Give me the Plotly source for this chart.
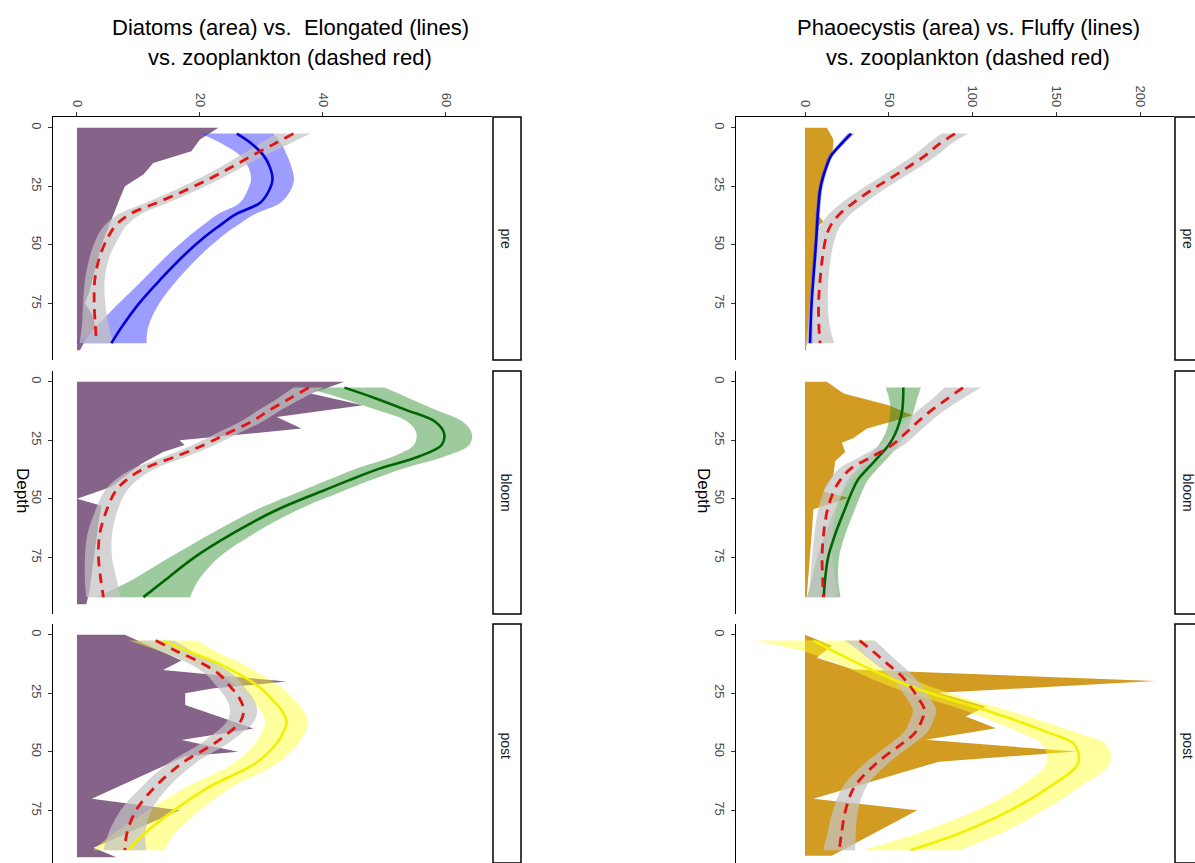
import plotly.graph_objects as go

# ---------------- data ----------------
FACETS = ["pre", "bloom", "post"]
DEPTH_TICKS = [0, 25, 50, 75]
LEFT_VALUE_TICKS = [0, 20, 40, 60]
RIGHT_VALUE_TICKS = [0, 50, 100, 150, 200]

LEFT_TITLE = ["Diatoms (area) vs.\u00a0 Elongated (lines)", "vs. zooplankton (dashed red)"]
RIGHT_TITLE = ["Phaoecystis (area) vs. Fluffy (lines)", "vs. zooplankton (dashed red)"]

# smooth fits are read at these depths
SMOOTH_DEPTH = [2.5, 7, 12, 17, 22, 27, 32, 37, 42, 47, 55, 65, 75, 85, 92]

# --- Diatoms (area) ---
diatoms_pre_depth = [0, 5, 10, 15, 20, 25, 30, 34, 40, 45, 50, 55, 60, 65, 70, 75, 80, 85, 90, 95]
diatoms_pre_value = [23, 20, 18.6, 12.4, 10.8, 7.8, 7, 6.4, 5.5, 4.8, 4, 3.5, 3, 2.5, 2, 1.3, 2.5, 3, 1.5, 0.5]
diatoms_bloom_depth = [0, 5, 10, 15, 20, 23, 25, 27, 30, 35, 40, 45, 50, 53, 60, 70, 80, 90, 95]
diatoms_bloom_value = [43.5, 38, 46.5, 32.5, 36.5, 25, 16.7, 17.5, 14, 10.5, 8, 5.5, 0, 4, 3.5, 3, 2.5, 2, 1.5]
diatoms_post_depth = [0, 11, 15, 20, 23, 25, 30, 35, 40, 45, 50, 52, 70, 75, 91, 95]
diatoms_post_value = [7.8, 17, 14, 34, 22, 17.6, 17.6, 23, 28.7, 17, 26.2, 17.5, 2.4, 16.7, 2.7, 6.4]

# --- Elongated (smooth + ci) ---
elong_pre_fit = [26, 28.5, 30.4, 31.4, 31.8, 31.2, 29.8, 25.8, 23.1, 20.6, 17.2, 13.5, 10.1, 7.3, 5.6]
elong_pre_ci = [6, 4.8, 3.8, 3.5, 3.5, 3.5, 3.3, 3, 2.8, 2.7, 2.7, 2.8, 3.3, 4.3, 5.7]
elong_bloom_fit = [43.5, 48.5, 53.5, 58.2, 59.7, 59.3, 55.5, 49.3, 44.3, 39.6, 32.3, 25.2, 19.1, 14.2, 10.8]
elong_bloom_ci = [6.5, 5.5, 4.8, 4.5, 4.5, 4.5, 4.2, 3.8, 3.5, 3.4, 3.4, 3.5, 4, 5.5, 7.6]
elong_post_fit = [14, 18, 22.8, 26.5, 29.5, 31.5, 33.2, 34.1, 33.5, 32.3, 29, 21.5, 15.8, 10.9, 8.4]
elong_post_ci = [5.6, 4.5, 3.8, 3.5, 3.5, 3.5, 3.5, 3.5, 3.5, 3.5, 3.5, 3.7, 4.2, 5, 5.8]

# --- zooplankton, left column (smooth + ci) ---
zooL_pre_fit = [35.2, 32, 28.4, 25, 21.4, 17.4, 13, 8.5, 6.2, 5, 3.7, 2.9, 2.8, 3, 3.2]
zooL_pre_ci = [2.8, 2.4, 2, 1.8, 1.8, 1.8, 1.8, 1.8, 1.8, 1.8, 1.6, 1.6, 1.8, 2.2, 2.8]
zooL_bloom_fit = [37.7, 34.7, 31.4, 28.4, 24.5, 20.6, 16, 11, 8, 6.2, 4.8, 3.7, 3.5, 3.9, 4.3]
zooL_bloom_ci = [2.5, 2, 1.8, 1.8, 1.8, 1.8, 1.8, 1.8, 1.8, 1.8, 1.8, 2, 2.2, 2.6, 2.8]
zooL_post_fit = [12.8, 16.2, 20.2, 23.2, 24.9, 26.4, 27.1, 26.6, 24.6, 22, 17, 12.7, 9.6, 8.1, 7.8]
zooL_post_ci = [3, 2.5, 2.2, 2.2, 2.2, 2.2, 2.2, 2.2, 2.2, 2.2, 2.2, 2.2, 2.5, 3, 3.5]

# --- Phaeocystis (area) ---
phaeo_pre_depth = [0, 5, 10, 15, 22, 30, 38, 40, 42, 50, 60, 70, 80, 90, 95]
phaeo_pre_value = [13, 17, 16.5, 14, 10, 8.5, 8.5, 11, 8, 7, 5, 3.5, 2.3, 1.3, 0.5]
phaeo_bloom_depth = [0, 5, 10, 14.3, 17, 20, 24, 26, 30, 34, 40, 47, 49.5, 54.5, 65, 75, 85, 92]
phaeo_bloom_value = [13, 23, 50, 64, 52, 37, 29, 22, 24, 18, 17, 11, 26, 5, 4, 3, 2, 1]
phaeo_post_depth = [0, 4.7, 9.8, 14.8, 19.8, 24.8, 30.6, 34.9, 39.9, 44.9, 49.9, 54.2, 70, 75, 94.4]
phaeo_post_value = [0, 16, 7, 29, 209, 80, 108, 96, 114, 72, 162, 80, 5, 67, 16]

# --- Fluffy (smooth + ci) ---
fluffy_pre_fit = [27.5, 21.5, 15.5, 12.6, 10.4, 8.9, 8.2, 7.6, 7.2, 6.8, 6, 4.9, 3.9, 3.3, 3]
fluffy_pre_ci = [2, 1.6, 1.3, 1.2, 1.2, 1.2, 1.2, 1.2, 1.2, 1.2, 1.2, 1.2, 1.3, 1.5, 1.8]
fluffy_bloom_fit = [58.7, 58.6, 58.1, 56.5, 54, 50, 44, 37.5, 31.5, 28, 23.5, 18.1, 13.8, 11.9, 11.2]
fluffy_bloom_ci = [10.5, 8.5, 7, 6.5, 6, 6, 6, 6, 6, 6, 6, 6, 6.5, 8, 10]
fluffy_post_fit = [5, 17, 31, 46, 62.5, 84, 107, 127.5, 146, 161, 163, 146, 122.5, 91.5, 63]
fluffy_post_ci = [36, 18, 13, 12, 12, 12, 13, 15, 17, 19, 19, 18, 20, 25, 29]

# --- zooplankton, right column (smooth + ci) ---
zooR_pre_fit = [89.5, 80, 71.5, 61, 50, 38.8, 29, 20.5, 15.1, 12.5, 10.5, 9, 8.1, 8.3, 9]
zooR_pre_ci = [8, 7, 7, 7, 7, 7, 7, 6.5, 6, 5.5, 5, 5, 5.5, 6.5, 8.5]
zooR_bloom_fit = [94.3, 85.5, 75.8, 67.5, 60, 52, 40, 27.5, 21, 17, 13.3, 11.1, 10.2, 10.6, 11]
zooR_bloom_ci = [11, 9, 8, 7.5, 7, 7, 7, 7, 6.5, 6, 5.5, 5.5, 6, 7.5, 9]
zooR_post_fit = [32.6, 40.5, 48.5, 56.8, 62.8, 67.5, 71.3, 69.5, 65.5, 57, 42.5, 29.5, 24.2, 21.8, 20.4]
zooR_post_ci = [9, 8, 7.5, 7, 7, 7, 7, 7, 7, 7, 7, 7, 7.5, 8.5, 9.5]

# ---------------- styling / layout ----------------
W, H = 1195, 863
FONT = "Liberation Sans, Arial, sans-serif"
PURPLE = "rgb(134,99,137)"
GOLD = "rgb(210,155,33)"
GREY_RIB = "rgba(195,195,195,0.72)"
RED = "rgb(228,20,20)"
LINE_COLORS = ["rgb(0,0,215)", "rgb(0,100,0)", "rgb(240,240,0)"]
RIB_COLORS = ["rgba(60,60,255,0.5)", "rgba(40,140,40,0.45)", "rgba(255,255,40,0.45)"]

ROWS_PX = [(117, 360), (371, 614), (624, 863)]
COLS_PX = [(53, 492), (736, 1174)]
STRIP_PX = [(493, 521), (1175, 1203)]
XRANGES = [[-3.9, 67.5], [-41.2, 220.3]]
YRANGES = [[99.2, -4.6], [99.2, -4.6], [97.5, -4.6]]


def fx(p):
    return p / W


def fy(p):
    return 1 - p / H


fig = go.Figure()

areas = [
    [(diatoms_pre_depth, diatoms_pre_value), (diatoms_bloom_depth, diatoms_bloom_value),
     (diatoms_post_depth, diatoms_post_value)],
    [(phaeo_pre_depth, phaeo_pre_value), (phaeo_bloom_depth, phaeo_bloom_value),
     (phaeo_post_depth, phaeo_post_value)],
]
group_smooth = [
    [(elong_pre_fit, elong_pre_ci), (elong_bloom_fit, elong_bloom_ci), (elong_post_fit, elong_post_ci)],
    [(fluffy_pre_fit, fluffy_pre_ci), (fluffy_bloom_fit, fluffy_bloom_ci), (fluffy_post_fit, fluffy_post_ci)],
]
zoo_smooth = [
    [(zooL_pre_fit, zooL_pre_ci), (zooL_bloom_fit, zooL_bloom_ci), (zooL_post_fit, zooL_post_ci)],
    [(zooR_pre_fit, zooR_pre_ci), (zooR_bloom_fit, zooR_bloom_ci), (zooR_post_fit, zooR_post_ci)],
]
area_colors = [PURPLE, GOLD]

layout_axes = {}
shapes = []
annotations = []

for c in range(2):
    for r in range(3):
        idx = c * 3 + r + 1
        sfx = "" if idx == 1 else str(idx)
        xa, ya = "x" + sfx, "y" + sfx
        y0p, y1p = ROWS_PX[r]
        x0p, x1p = COLS_PX[c]

        # area
        d, v = areas[c][r]
        fig.add_trace(go.Scatter(x=v, y=d, xaxis=xa, yaxis=ya, mode="lines",
                                 line=dict(width=0, color=area_colors[c]), fill="tozerox",
                                 fillcolor=area_colors[c], hoverinfo="skip", showlegend=False))

        def ribbon(fit, ci, color):
            lo = [f - e for f, e in zip(fit, ci)]
            hi = [f + e for f, e in zip(fit, ci)]
            fig.add_trace(go.Scatter(x=lo, y=SMOOTH_DEPTH, xaxis=xa, yaxis=ya, mode="lines",
                                     line=dict(width=0, shape="spline", color=color),
                                     hoverinfo="skip", showlegend=False))
            fig.add_trace(go.Scatter(x=hi, y=SMOOTH_DEPTH, xaxis=xa, yaxis=ya, mode="lines",
                                     line=dict(width=0, shape="spline", color=color),
                                     fill="tonextx", fillcolor=color,
                                     hoverinfo="skip", showlegend=False))

        gfit, gci = group_smooth[c][r]
        zfit, zci = zoo_smooth[c][r]
        ribbon(gfit, gci, RIB_COLORS[r])
        ribbon(zfit, zci, GREY_RIB)
        fig.add_trace(go.Scatter(x=gfit, y=SMOOTH_DEPTH, xaxis=xa, yaxis=ya, mode="lines",
                                 line=dict(width=2.6, shape="spline", color=LINE_COLORS[r]),
                                 hoverinfo="skip", showlegend=False))
        fig.add_trace(go.Scatter(x=zfit, y=SMOOTH_DEPTH, xaxis=xa, yaxis=ya, mode="lines",
                                 line=dict(width=2.8, shape="spline", color=RED, dash="10px,7px"),
                                 hoverinfo="skip", showlegend=False))

        top = (r == 0)
        layout_axes["xaxis" + sfx] = dict(
            domain=[fx(x0p), fx(x1p)], range=XRANGES[c], anchor=ya, side="top",
            showgrid=False, zeroline=False,
            showline=top, linecolor="black", linewidth=1.3,
            ticks="outside" if top else "", ticklen=4, tickwidth=1, tickcolor="#333333",
            tickvals=(LEFT_VALUE_TICKS if c == 0 else RIGHT_VALUE_TICKS),
            showticklabels=top, tickangle=90,
            tickfont=dict(family=FONT, size=13, color="#4D4D4D"),
        )
        layout_axes["yaxis" + sfx] = dict(
            domain=[fy(y1p), fy(y0p)], range=YRANGES[r], anchor=xa,
            showgrid=False, zeroline=False,
            showline=True, linecolor="black", linewidth=1.3,
            ticks="outside", ticklen=4, tickwidth=1, tickcolor="#333333",
            tickvals=DEPTH_TICKS, tickangle=90,
            tickfont=dict(family=FONT, size=13, color="#4D4D4D"),
        )

        # facet strip
        s0, s1 = STRIP_PX[c]
        shapes.append(dict(type="rect", xref="paper", yref="paper",
                           x0=fx(s0), x1=fx(s1), y0=fy(y1p), y1=fy(y0p),
                           line=dict(color="black", width=1.5), fillcolor="white", layer="above"))
        sy = (y0p + (y1p if r < 2 else 867)) / 2
        annotations.append(dict(text=FACETS[r], xref="paper", yref="paper",
                                x=fx(s0 + 13), y=fy(sy), xanchor="center", yanchor="middle",
                                showarrow=False, textangle=90,
                                font=dict(family=FONT, size=14, color="#1A1A1A")))

# titles
for title, cx in [(LEFT_TITLE, 290), (RIGHT_TITLE, 968)]:
    for line, cy in zip(title, [28, 57]):
        annotations.append(dict(text=line, xref="paper", yref="paper", x=fx(cx), y=fy(cy),
                                xanchor="center", yanchor="middle", showarrow=False,
                                font=dict(family=FONT, size=22, color="black")))

# depth axis titles
for dx in [22, 703]:
    annotations.append(dict(text="Depth", xref="paper", yref="paper", x=fx(dx), y=fy(490),
                            xanchor="center", yanchor="middle",
                            showarrow=False, textangle=90,
                            font=dict(family=FONT, size=17, color="black")))

fig.update_layout(
    width=W, height=H,
    margin=dict(l=0, r=0, t=0, b=0),
    paper_bgcolor="white", plot_bgcolor="white",
    showlegend=False,
    shapes=shapes, annotations=annotations,
    **layout_axes,
)

fig.write_html("out.html")
